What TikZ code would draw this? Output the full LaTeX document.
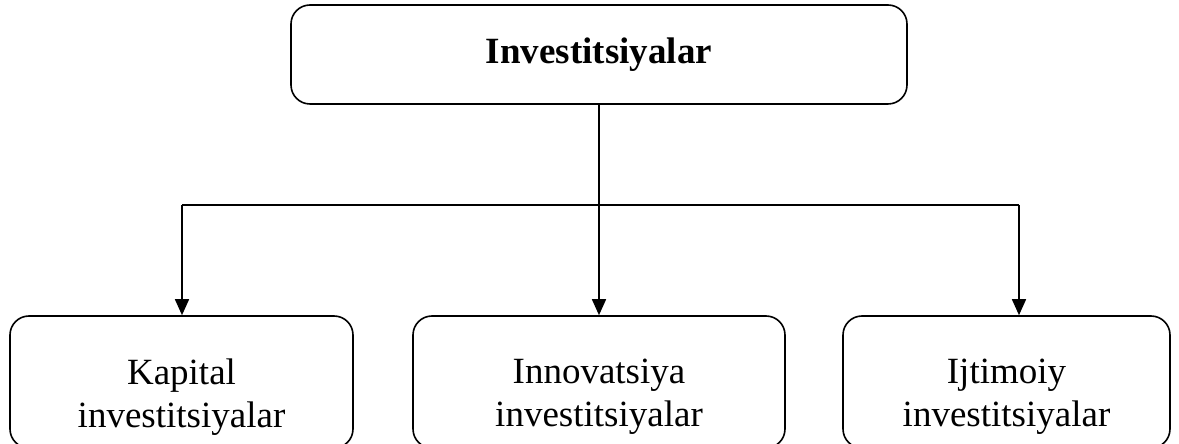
\documentclass[tikz,border=0pt]{standalone}
\usepackage{fontspec}
\setmainfont{Liberation Serif}
\usetikzlibrary{arrows.meta}

\begin{document}
\begin{tikzpicture}[x=1pt, y=1pt, line width=1.6pt,
    box/.style={draw, rounded corners=19pt, inner sep=0pt},
    label/.style={align=center, font=\fontsize{37}{43}\selectfont},
    arr/.style={-{Triangle[length=16pt, width=14pt]}}]
        \useasboundingbox (0,0) rectangle (1179,444);
        \node [box, minimum width=616pt, minimum height=99pt] (top) at (599,389.5) {};
        \node [label, font=\fontsize{37}{43}\selectfont\bfseries] (toptext) at (599,389.5) {Investitsiyalar};
        \node [box, minimum width=343pt, minimum height=132pt] (kap) at (181.5,62) {};
        \node [box, minimum width=372pt, minimum height=132pt] (inn) at (599,62) {};
        \node [box, minimum width=327pt, minimum height=132pt] (ijt) at (1006.5,62) {};
        \node [label] (kaptext) at (181.5,47) {Kapital\\investitsiyalar};
        \node [label] (inntext) at (599,47) {Innovatsiya\\investitsiyalar};
        \node [label] (ijttext) at (1006.5,47) {Ijtimoiy\\investitsiyalar};
        \coordinate (hl) at (182,239);
        \coordinate (hr) at (1019,239);
        \draw (top.south) -- (top.south |- hl);
        \draw (hl) -- (hr);
        \draw [arr] (hl) -- (kap.north -| hl);
        \draw [arr] (top.south |- hl) -- (inn.north);
        \draw [arr] (hr) -- (ijt.north -| hr);
      \end{tikzpicture}
\end{document}
